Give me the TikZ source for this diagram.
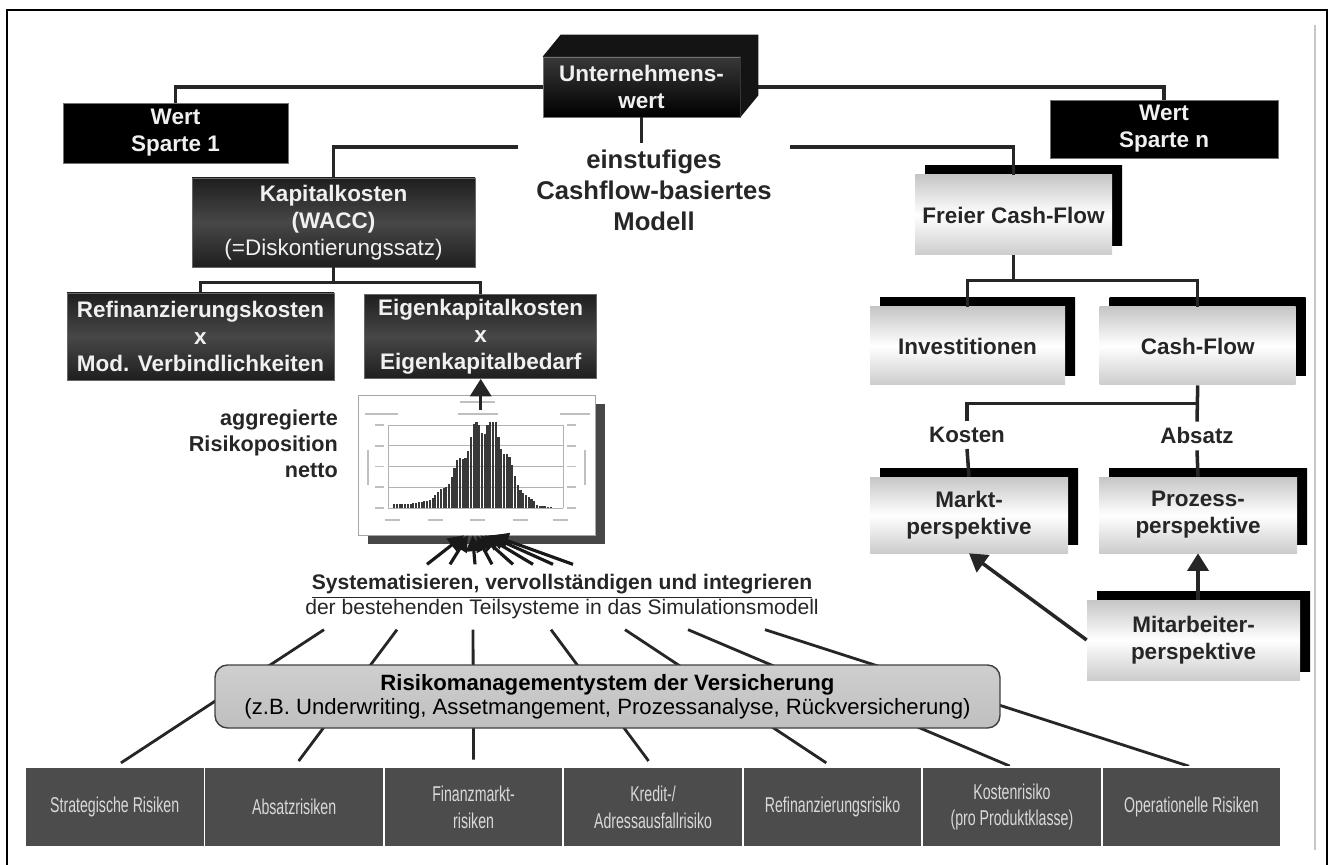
\documentclass[tikz,border=0pt]{standalone}
\usepackage{fontspec}
\setmainfont{Liberation Sans}
\newfontfamily\schmal[FakeStretch=0.66]{Liberation Sans}
\usepackage{tikz}
\usetikzlibrary{arrows.meta, positioning, calc, shadows, backgrounds}

\begin{document}
\begin{tikzpicture}[
        base/.style={
            align=center, font=\bfseries\fontsize{12.8}{15.3}\selectfont, inner sep=2pt
        },
        schwarz/.style={base, fill=black, draw=black!55, text=white!94!black},
        dunkel/.style={base, top color=black!88, bottom color=black!88, middle color=black!72,
            draw=black!60, text=white!94!black},
        hell/.style={base, top color=gray!45, bottom color=gray!40, middle color=white, text=black!85,
            copy shadow={shadow xshift=0.2cm, shadow yshift=0.18cm, fill=black, draw=none,
                top color=black, bottom color=black, middle color=black}},
        risk/.style={align=center, fill=black!70, draw=white, line width=1pt, outer sep=0pt,
            minimum width=3.589cm, minimum height=1.6cm, text=white!85!black,
            font=\schmal\fontsize{12.2}{15.3}\selectfont},
        beschr/.style={font=\bfseries\fontsize{12.7}{15.3}\selectfont, text=black!85},
        conn/.style={line width=2pt, black!85},
        duenn/.style={line width=1.6pt, black!85},
        pfeil/.style={conn, -{Triangle[length=10pt,width=12pt]}},
        buendel/.style={line width=1.8pt, black!90, -{Triangle[length=9pt,width=9pt]}}
    ]

        \useasboundingbox (0,0) rectangle (26.62,-17.3);
        \draw[line width=1.2pt] (0.14,-0.2) rectangle (26.54,-17.8);
        \draw[gray!45, line width=1pt] (26.3,-0.5) -- (26.3,-17.0);

        % Oben
        \node[schwarz, top color=black!78, bottom color=black, minimum width=3.94cm, minimum height=1.2cm] (uw) at (12.83,-1.74) {Unternehmens-\\wert};
        \fill[black!92] (uw.north west) -- ++(0.36,0.44) -- ([shift={(0.36,0.44)}]uw.north east)
            -- ([shift={(0.36,0.44)}]uw.south east) -- (uw.south east) -- (uw.north east) -- cycle;

        \node[schwarz, minimum width=4.5cm, minimum height=1.2cm] (w1) at (3.51,-2.66) {Wert\\Sparte 1};
        \node[schwarz, minimum width=4.56cm, minimum height=1.16cm] (wn) at (23.28,-2.58) {Wert\\Sparte n};

        \node[beschr, font=\bfseries\fontsize{14.6}{17.6}\selectfont, align=center, minimum width=5.44cm] (modell) at (13.08,-3.8) {einstufiges\\Cashflow-basiertes\\Modell};

        % Kapitalkosten
        \node[dunkel, minimum width=5.66cm, minimum height=1.78cm] (kk) at (6.67,-4.45) {Kapitalkosten\\(WACC)\\\mdseries (=Diskontierungssatz)};
        \node[dunkel, minimum width=5.34cm, minimum height=1.74cm] (rk) at (4.01,-6.73) {Refinanzierungskosten\\x\\Mod. Verbindlichkeiten};
        \node[dunkel, minimum width=4.64cm, minimum height=1.68cm, right=0.6cm of rk] (ek) {Eigenkapitalkosten\\x\\Eigenkapitalbedarf};

        % Verteilung
        \node[minimum width=4.74cm, minimum height=2.8cm, fill=white, draw=gray!70,
            copy shadow={shadow xshift=0.2cm, shadow yshift=-0.18cm, fill=black!72, draw=none}] (chart) at (9.53,-9.3) {};
        \foreach \y in {-8.5,-8.915,-9.33,-9.745,-10.16}
            \draw[gray!60, line width=0.4pt] (7.76,\y) -- (11.26,\y);
        \draw[gray!60, line width=0.4pt] (7.76,-8.5) -- (7.76,-10.16) (11.26,-8.5) -- (11.26,-10.16);
        \foreach \x in {7.86,7.915,...,11.04} {
            \pgfmathsetmacro\sig{\x<9.75 ? 0.7 : 0.5}
            \pgfmathsetmacro\hoehe{min(1.64,1.9*exp(-((\x-9.75)/\sig)*((\x-9.75)/\sig))*(0.88+0.14*sin(\x*997))) + (\x<10.7 ? 0.08 : 0.02)}
            \fill[black!78] (\x,-10.16) rectangle ++(0.042,\hoehe);
        }
        \draw[gray!50, line width=1.2pt] (9.2,-8.04) -- (9.9,-8.04) (9.15,-8.28) -- (9.95,-8.28)
            (7.3,-8.28) -- (7.95,-8.28) (11.2,-8.28) -- (11.8,-8.28);
        \foreach \x in {7.84,8.7,9.55,10.4,11.2}
            \draw[gray!50, line width=1pt] (\x-0.15,-10.4) -- (\x+0.15,-10.4);
        \foreach \y in {-8.5,-8.915,-9.33,-9.745,-10.16}
            \draw[gray!50, line width=1pt] (7.5,\y) -- (7.68,\y) (11.34,\y) -- (11.52,\y);
        \draw[gray!50, line width=1pt] (7.36,-9.0) -- (7.36,-9.7) (11.7,-9.0) -- (11.7,-9.7);

        \node[beschr, align=right, anchor=east, font=\bfseries\fontsize{12.3}{14.8}\selectfont] (agg) at (6.88,-8.88) {aggregierte\\Risikoposition\\netto};

        \node[align=center, inner sep=0.2cm, font=\fontsize{12}{14.2}\selectfont, text=black!85] (sys) at (11.24,-11.94) {\textbf{\underline{Systematisieren, vervollständigen und integrieren}}\\der bestehenden Teilsysteme in das Simulationsmodell};

        \node[align=center, rounded corners=0.25cm, top color=gray!38, bottom color=gray!50, draw=black!75, line width=0.8pt,
            minimum width=15.7cm, minimum height=1.26cm, inner sep=1pt, font=\fontsize{12.6}{13.6}\selectfont] (rms) at (12.15,-13.93)
            {\textbf{Risikomanagementystem der Versicherung}\\(z.B. Underwriting, Assetmangement, Prozessanalyse, Rückversicherung)};

        % Risiken
        \node[risk] (r1) at (2.294,-16.14) {Strategische Risiken};
        \node[risk, right=0pt of r1] (r2) {Absatzrisiken};
        \node[risk, right=0pt of r2] (r3) {Finanzmarkt-\\risiken};
        \node[risk, right=0pt of r3] (r4) {Kredit-/\\Adressausfallrisiko};
        \node[risk, right=0pt of r4] (r5) {Refinanzierungsrisiko};
        \node[risk, right=0pt of r5] (r6) {Kostenrisiko\\(pro Produktklasse)};
        \node[risk, right=0pt of r6] (r7) {Operationelle Risiken};

        % Cash-Flow Seite
        \node[hell, minimum width=3.94cm, minimum height=1.6cm] (fcf) at (20.27,-4.3) {Freier Cash-Flow};
        \node[hell, minimum width=3.9cm, minimum height=1.56cm] (inv) at (19.35,-6.92) {Investitionen};
        \node[hell, minimum width=3.92cm, minimum height=1.56cm, right=0.68cm of inv] (cf) {Cash-Flow};
        \node[beschr] (kosten) at (19.34,-8.7) {Kosten};
        \node[beschr] (absatz) at (23.94,-8.72) {Absatz};
        \node[hell, minimum width=3.96cm, minimum height=1.52cm] (mp) at (19.38,-10.3) {Markt-\\perspektive};
        \node[hell, minimum width=3.96cm, minimum height=1.52cm] (pp) at (23.96,-10.3) {Prozess-\\perspektive};
        \node[hell, minimum width=4.26cm, minimum height=1.6cm] (map) at (23.87,-12.8) {Mitarbeiter-\\perspektive};

        % Linien
        \begin{scope}[on background layer]
            \draw[conn] (w1.north) |- (uw.west);
            \draw[conn] (uw.east) -| (wn.north);
            \draw[duenn, shorten >=0.15cm] ([xshift=-4.76cm]sys.south) -- (r1.north);
            \draw[duenn, shorten >=0.15cm] ([xshift=-3.3cm]sys.south) -- (r2.north);
            \draw[duenn, shorten >=0.15cm] ([xshift=-1.78cm]sys.south) -- (r3.north);
            \draw[duenn, shorten >=0.15cm] ([xshift=-0.22cm]sys.south) -- (r4.north);
            \draw[duenn, shorten >=0.15cm] ([xshift=1.26cm]sys.south) -- (r5.north);
            \draw[duenn, shorten >=0.05cm] ([xshift=2.52cm]sys.south) -- (r6.north);
            \draw[duenn, shorten >=0.05cm] ([xshift=4.06cm]sys.south) -- (r7.north);
        \end{scope}

        \draw[conn] (uw.south) -- (uw.south |- modell.north);
        \coordinate (teil) at (13.08,-2.94);
        \draw[conn] (teil -| modell.west) -| (kk.north);
        \draw[conn] (teil -| modell.east) -| (fcf.north);
        \draw[conn] (kk.south) -- ++(0,-0.3) coordinate (kkb);
        \draw[conn] (rk.north) |- (kkb) -| (ek.north);
        \draw[pfeil] ($(ek.south |- chart.north)+(0,-0.3)$) -- (ek.south);

        \draw[buendel] ([xshift=-2.7cm]sys.north) -- ([xshift=-0.25cm]chart.south);
        \draw[buendel] ([xshift=-2.24cm]sys.north) -- ([xshift=-0.17cm]chart.south);
        \draw[buendel] ([xshift=-1.74cm]sys.north) -- ([xshift=-0.08cm]chart.south);
        \draw[buendel] ([xshift=-1.4cm]sys.north) -- (chart.south);
        \draw[buendel] ([xshift=-0.98cm]sys.north) -- ([xshift=0.08cm]chart.south);
        \draw[buendel] ([xshift=-0.58cm]sys.north) -- ([xshift=0.16cm]chart.south);
        \draw[buendel] ([xshift=-0.18cm]sys.north) -- ([xshift=0.24cm]chart.south);
        \draw[buendel] ([xshift=0.22cm]sys.north) -- ([xshift=0.32cm]chart.south);

        \draw[conn] (fcf.south) -- ++(0,-0.5) coordinate (fcfb);
        \draw[conn] (inv.north) |- (fcfb) -| (cf.north);
        \draw[conn] (cf.south) -- (absatz.north);
        \draw[conn] (kosten.north) |- ($(cf.south)!0.5!(absatz.north)$);
        \draw[conn] (kosten.south) -- (mp.north);
        \draw[conn] (absatz.south) -- (pp.north);
        \draw[pfeil] (pp.south |- map.north) -- (pp.south);
        \draw[pfeil] (map.west) -- (mp.south);

    \end{tikzpicture}
\end{document}
